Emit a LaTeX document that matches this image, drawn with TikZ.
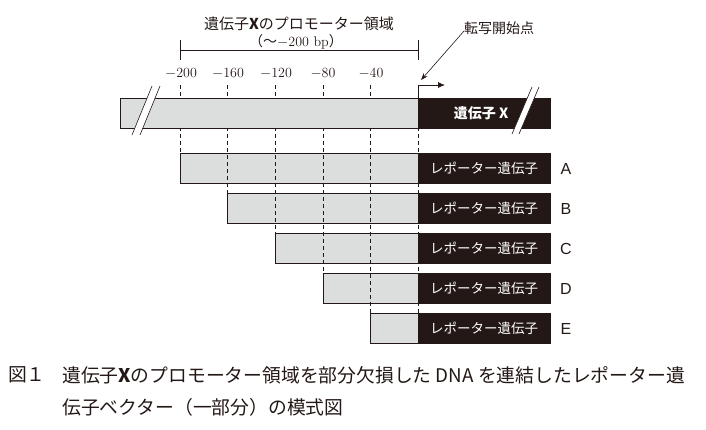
\documentclass[tikz,border=0pt]{standalone}
\usepackage{fontspec}
\newfontfamily\cjk{Noto Sans CJK JP}
\newfontfamily\lsans{Liberation Sans}
\usetikzlibrary{arrows.meta}
\definecolor{gbar}{HTML}{DCDDDD}
\definecolor{kbar}{HTML}{231815}
\begin{document}
\begin{tikzpicture}[x=1pt,y=-1pt,
  graybox/.style={draw=kbar, line width=0.8pt, fill=gbar, minimum height=30pt, inner sep=0pt, outer sep=0pt, anchor=north west},
  blackbox/.style={draw=kbar, line width=0.8pt, fill=kbar, minimum height=30pt, minimum width=132pt, inner sep=0pt, outer sep=0pt, anchor=north west, text=white, font=\cjk\fontsize{13.5}{15}\selectfont},
  rowlabel/.style={anchor=center, font=\lsans\fontsize{16}{18}\selectfont, text=kbar},
  ticklabel/.style={font=\fontsize{14}{16}\selectfont, anchor=center, inner sep=0pt, text=kbar},
  guide/.style={draw=kbar, line width=0.7pt, dash pattern=on 4pt off 3pt},
  cline/.style={draw=kbar, line width=0.8pt},
  captext/.style={font=\cjk\fontsize{18.8}{22}\selectfont, anchor=west, inner sep=0pt, text=kbar}
]
\useasboundingbox (0,0) rectangle (706,429);

% title and bracket
\node[font=\cjk\fontsize{15}{17}\selectfont, text=kbar] (title) at (299,24) {遺伝子{\bfseries X}のプロモーター領域};
\node[font=\fontsize{14}{16}\selectfont, text=kbar] (sub) at (296,42) {{\cjk （～}$-$200 bp{\cjk ）}};
\coordinate (bl) at (180,50);
\coordinate (br) at (418,50);
\draw[cline] (bl) -- (br);
\draw[cline] ([yshift=10pt]bl) -- ([yshift=-10pt]bl);
\draw[cline] ([yshift=10pt]br) -- ([yshift=-10pt]br);

% tick labels
\node[ticklabel] (t200) at (181,73) {$-$200};
\node[ticklabel] (t160) at (228,73) {$-$160};
\node[ticklabel] (t120) at (276,73) {$-$120};
\node[ticklabel] (t80)  at (323,73) {$-$80};
\node[ticklabel] (t40)  at (371,73) {$-$40};

% reporter rows
\node[graybox, minimum width=238pt] (ga) at (180,153.5) {};
\node[blackbox] (ka) at (418,153.5) {レポーター遺伝子};
\node[graybox, minimum width=191pt] (gb) at (227,193.5) {};
\node[blackbox] (kb) at (418,193.5) {レポーター遺伝子};
\node[graybox, minimum width=143pt] (gc) at (275,233.5) {};
\node[blackbox] (kc) at (418,233.5) {レポーター遺伝子};
\node[graybox, minimum width=95pt] (gd) at (323,273.5) {};
\node[blackbox] (kd) at (418,273.5) {レポーター遺伝子};
\node[graybox, minimum width=48pt] (ge) at (370,313.5) {};
\node[blackbox] (ke) at (418,313.5) {レポーター遺伝子};
\node[rowlabel] (la) at (566,168.5) {A};
\node[rowlabel] (lb) at (566,208.5) {B};
\node[rowlabel] (lc) at (566,248.5) {C};
\node[rowlabel] (ld) at (566,288.5) {D};
\node[rowlabel] (le) at (566,328.5) {E};

% dashed guides
\draw[guide] (180,85) -- (ga.north west);
\draw[guide] (227,85) -- (gb.north west);
\draw[guide] (275,85) -- (gc.north west);
\draw[guide] (323,85) -- (gd.north west);
\draw[guide] (370,85) -- (ge.north west);
\draw[guide] (418,85) -- (ge.north east);

% gene X bar
\node[graybox, minimum width=298pt] (gx) at (120,98) {};
\node[blackbox, font=\cjk\bfseries\fontsize{14}{16}\selectfont] (kx) at (418,98) {\hspace*{-6pt}遺伝子 X};
% breaks
\fill[white] (132,135) -- (152,86) -- (160,86) -- (140,135) -- cycle;
\draw[cline, line width=0.6pt] (132,135) -- (152,86);
\draw[cline, line width=0.6pt] (140,135) -- (160,86);
\fill[white] (512,134) -- (532,87) -- (539,87) -- (519,134) -- cycle;
\draw[cline, line width=0.6pt] (512,134) -- (532,87);
\draw[cline, line width=0.6pt] (519,134) -- (539,87);

% transcription start
\coordinate (tsstip) at (445,85);
\draw[cline, -{Latex[length=7pt,width=6pt]}] (kx.north west) |- (tsstip);
\node[font=\cjk\fontsize{14}{16}\selectfont, anchor=west, inner sep=0pt, text=kbar] (tss) at (464,28) {転写開始点};
\coordinate (tssend) at (421,80);
\draw[cline, line width=0.6pt, -{Stealth[length=7pt,width=5pt]}] ([yshift=-3pt]tss.west) -- (tssend);

% caption
\node[captext] (c0) at (8,375) {図１};
\node[captext] (c1) at (62,375) {遺伝子{\bfseries X}のプロモーター領域を部分欠損した DNA を連結したレポーター遺};
\node[captext] (c2) at (62,407) {伝子ベクター（一部分）の模式図};
\end{tikzpicture}
\end{document}
